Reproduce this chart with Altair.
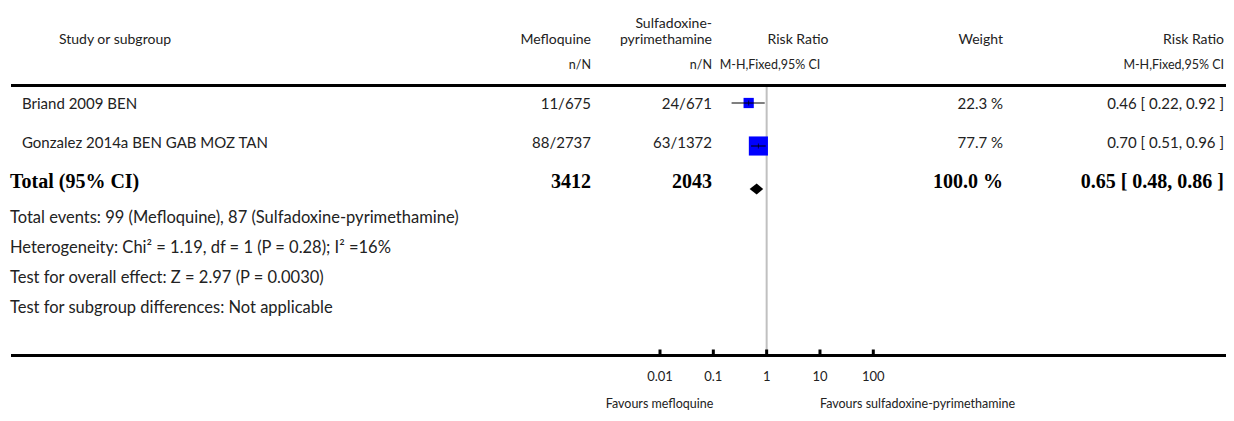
import altair as alt
import pandas as pd

# ---------------- data ----------------
studies = ["Briand 2009 BEN", "Gonzalez 2014a BEN GAB MOZ TAN"]
mq_events = ["11/675", "88/2737"]
sp_events = ["24/671", "63/1372"]
weights = [22.3, 77.7]
rr = [0.46, 0.70]
ci_low = [0.22, 0.51]
ci_high = [0.92, 0.96]

total_label = "Total (95% CI)"
total_mq = "3412"
total_sp = "2043"
total_weight = 100.0
total_rr = 0.65
total_low = 0.48
total_high = 0.86

footnotes = [
    "Total events: 99 (Mefloquine), 87 (Sulfadoxine-pyrimethamine)",
    "Heterogeneity: Chi\u00b2 = 1.19, df = 1 (P = 0.28); I\u00b2 =16%",
    "Test for overall effect: Z = 2.97 (P = 0.0030)",
    "Test for subgroup differences: Not applicable",
]
tick_values = [0.01, 0.1, 1, 10, 100]
tick_labels = ["0.01", "0.1", "1", "10", "100"]
favours_left = "Favours mefloquine"
favours_right = "Favours sulfadoxine-pyrimethamine"

header_study = "Study or subgroup"
header_mq = "Mefloquine"
header_sp = ["Sulfadoxine-", "pyrimethamine"]
header_rr = "Risk Ratio"
header_weight = "Weight"
sub_nN = "n/N"
sub_method = "M-H,Fixed,95% CI"

# ---------------- layout / style ----------------
W, H = 1218, 405
SANS = "Lato"
SERIF = "Liberation Serif"
TXT = "#222222"
FS_HEAD = 14
FS_ROW = 15
FS_FOOT = 16.5
FS_SUB = 12.5
FS_BOLD = 20
X_NAME, X_TOTAL = 14, 2
X_MQ, X_SP, X_W, X_RR = 583, 704, 995, 1216
Y_HEAD, Y_SUB = 32, 57
LINE_TOP, LINE_BOT = 77.5, 347.5
TEXT_ROWS_PX = [96, 174]    # row 0 and row 2 text centres
MARK_ROWS_PX = [95, 181]    # row 0 and row 2 marker centres
MARK_SPACING = (MARK_ROWS_PX[1] - MARK_ROWS_PX[0]) / 2

xs = alt.Scale(type="log", domain=[0.01, 100], range=[652, 865.3])
ys_text = alt.Scale(type="linear", domain=[0, 2], range=TEXT_ROWS_PX)
ys_mark = alt.Scale(type="linear", domain=[0, 2], range=MARK_ROWS_PX)

df = pd.DataFrame({
    "row": list(range(len(studies))),
    "name": studies,
    "mq": mq_events,
    "sp": sp_events,
    "weight": weights,
    "rr": rr,
    "lo": ci_low,
    "hi": ci_high,
})
df["wtxt"] = df["weight"].map(lambda w: f"{w:.1f} %")
df["rrtxt"] = [f"{r:.2f} [ {l:.2f}, {h:.2f} ]" for r, l, h in zip(rr, ci_low, ci_high)]

tot_row = len(studies)
df_tot = pd.DataFrame({
    "row": [tot_row],
    "name": [total_label],
    "mq": [total_mq],
    "sp": [total_sp],
    "wtxt": [f"{total_weight:.1f} %"],
    "rrtxt": [f"{total_rr:.2f} [ {total_low:.2f}, {total_high:.2f} ]"],
})

d = 5.5 / MARK_SPACING
df_diamond = pd.DataFrame({
    "x": [total_low, total_rr, total_high],
    "top": [tot_row, tot_row - d, tot_row],
    "bot": [tot_row, tot_row + d, tot_row],
})

df_ticks = pd.DataFrame({"v": tick_values, "lab": tick_labels})
df_one = pd.DataFrame({"v": [1.0]})

layers = []


def ftext(text, x, y, align="left", size=FS_HEAD, font=SANS, weight="normal", color=TXT):
    return alt.Chart(pd.DataFrame({"t": [text]})).mark_text(
        align=align, baseline="middle", font=font, fontSize=size, fontWeight=weight, color=color
    ).encode(x=alt.value(x), y=alt.value(y), text="t:N")


# header texts
layers.append(ftext(header_study, 107, Y_HEAD, align="center"))
layers.append(ftext(header_mq, X_MQ, Y_HEAD, align="right"))
layers.append(ftext(header_sp[0], X_SP, Y_HEAD - 16, align="right"))
layers.append(ftext(header_sp[1], X_SP, Y_HEAD, align="right"))
layers.append(ftext(header_rr, 790, Y_HEAD, align="center"))
layers.append(ftext(header_weight, X_W, Y_HEAD, align="right"))
layers.append(ftext(header_rr, X_RR, Y_HEAD, align="right"))
layers.append(ftext(sub_nN, X_MQ, Y_SUB, align="right", size=FS_SUB))
layers.append(ftext(sub_nN, X_SP, Y_SUB, align="right", size=FS_SUB))
layers.append(ftext(sub_method, 762, Y_SUB, align="center", size=FS_SUB))
layers.append(ftext(sub_method, X_RR, Y_SUB, align="right", size=FS_SUB))

# horizontal lines
for yline in (LINE_TOP, LINE_BOT):
    layers.append(alt.Chart(df_one).mark_rule(color="black", strokeWidth=3).encode(
        x=alt.value(3), x2=alt.value(W), y=alt.value(yline)))

# vertical line of no effect
layers.append(alt.Chart(df_one).mark_rule(color="#c0c0c0", strokeWidth=2).encode(
    x=alt.X("v:Q", scale=xs, axis=None), y=alt.value(LINE_TOP + 1.5), y2=alt.value(LINE_BOT - 1.5)))

# axis ticks & labels
layers.append(alt.Chart(df_ticks).mark_rule(color="black", strokeWidth=3).encode(
    x=alt.X("v:Q", scale=xs, axis=None), y=alt.value(LINE_BOT - 6), y2=alt.value(LINE_BOT)))
layers.append(alt.Chart(df_ticks).mark_text(
    align="center", baseline="middle", font=SANS, fontSize=13, color=TXT).encode(
    x=alt.X("v:Q", scale=xs, axis=None), y=alt.value(369), text="lab:N"))

# favours labels
layers.append(alt.Chart(pd.DataFrame({"v": [0.1], "t": [favours_left]})).mark_text(
    align="right", baseline="middle", font=SANS, fontSize=12.5, color=TXT).encode(
    x=alt.X("v:Q", scale=xs, axis=None), y=alt.value(396), text="t:N"))
layers.append(alt.Chart(pd.DataFrame({"v": [10.0], "t": [favours_right]})).mark_text(
    align="left", baseline="middle", font=SANS, fontSize=12.5, color=TXT).encode(
    x=alt.X("v:Q", scale=xs, axis=None), y=alt.value(396), text="t:N"))

# study rows text
base = alt.Chart(df)
yrow = alt.Y("row:Q", scale=ys_text, axis=None)
ymark = alt.Y("row:Q", scale=ys_mark, axis=None)
for field, xpos, al in [("name", X_NAME, "left"), ("mq", X_MQ, "right"), ("sp", X_SP, "right"),
                        ("wtxt", X_W, "right"), ("rrtxt", X_RR, "right")]:
    layers.append(base.mark_text(align=al, baseline="middle", font=SANS, fontSize=FS_ROW, color=TXT).encode(
        x=alt.value(xpos), y=yrow, text=f"{field}:N"))

# total row text
baset = alt.Chart(df_tot)
for field, xpos, al in [("name", X_TOTAL, "left"), ("mq", X_MQ, "right"), ("sp", X_SP, "right"),
                        ("wtxt", X_W, "right"), ("rrtxt", X_RR, "right")]:
    layers.append(baset.mark_text(align=al, baseline="middle", font=SERIF, fontSize=FS_BOLD,
                                  fontWeight="bold", color="black").encode(
        x=alt.value(xpos), y=yrow, text=f"{field}:N"))

# footnotes
for i, fn in enumerate(footnotes):
    layers.append(ftext(fn, X_TOTAL, 210 + 30 * i, size=FS_FOOT))

# forest markers
layers.append(base.mark_square(color="#0000ff", opacity=1).encode(
    x=alt.X("rr:Q", scale=xs, axis=None), y=ymark,
    size=alt.Size("weight:Q", scale=alt.Scale(domain=[0, 100], range=[0, 470]), legend=None)))
layers.append(base.mark_rule(color="black", strokeWidth=1).encode(
    x=alt.X("lo:Q", scale=xs, axis=None), x2="hi:Q", y=ymark))
layers.append(base.mark_tick(orient="vertical", size=5, thickness=1, color="black").encode(
    x=alt.X("rr:Q", scale=xs, axis=None), y=ymark))
layers.append(alt.Chart(df_diamond).mark_area(color="black", orient="vertical", opacity=1).encode(
    x=alt.X("x:Q", scale=xs, axis=None),
    y=alt.Y("top:Q", scale=ys_mark, axis=None), y2="bot:Q"))

chart = alt.layer(*layers).resolve_scale(y="independent").properties(
    width=W, height=H, padding=0, autosize=alt.AutoSizeParams(type="none")
).configure_view(stroke=None)

chart.save("out.html", embed_options={"renderer": "svg", "actions": False})
